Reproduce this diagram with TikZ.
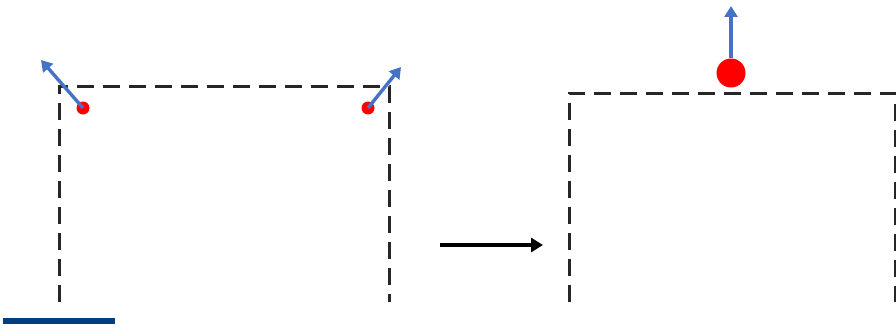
\documentclass[tikz,border=0pt]{standalone}
\usetikzlibrary{arrows.meta}
\definecolor{dotred}{HTML}{FF0000}
\definecolor{arrblue}{HTML}{4472C4}
\definecolor{barblue}{HTML}{003F7F}
\tikzset{
  boxline/.style={draw=black!85, line width=3pt, dash pattern=on 17pt off 9pt},
  dot/.style={circle, fill=dotred, inner sep=0pt},
  vec/.style={draw=arrblue, line width=3.4pt, -{Triangle[length=11pt,width=13pt]}},
  step arrow/.style={draw=black, line width=3.4pt, -{Triangle[length=12pt,width=14pt]}}
}
\begin{document}
\begin{tikzpicture}[x=1pt,y=-1pt]
\useasboundingbox (0,0) rectangle (896,329);
% left box
\coordinate (LBL) at (59,302);
\coordinate (LTL) at (59,86);
\coordinate (LTR) at (389,86);
\coordinate (LBR) at (389,302);
\draw[boxline] (LBL) -- (LTL) -- (LTR) -- (LBR);
% right box
\coordinate (RBL) at (569,302);
\coordinate (RTL) at (569,93);
\coordinate (RTR) at (895,93);
\coordinate (RBR) at (895,302);
\draw[boxline] (RBL) -- (RTL) -- (RTR) -- (RBR);
% dots
\node[dot, minimum size=13pt] (d1) at (83,108) {};
\node[dot, minimum size=13pt] (d2) at (368,108) {};
\node[dot, minimum size=29pt] (d3) at (731,73) {};
% vectors
\coordinate (v1) at (41,60);
\coordinate (v2) at (401,67);
\coordinate (v3) at (731,6);
\draw[vec] (d1.center) -- (v1);
\draw[vec] (d2.center) -- (v2);
\draw[vec] (d3.north) -- (v3);
% step arrow
\coordinate (a1) at (440,245);
\coordinate (a2) at (543,245);
\draw[step arrow] (a1) -- (a2);
% bar
\coordinate (b1) at (3,321);
\coordinate (b2) at (115,321);
\draw[barblue, line width=6.5pt] (b1) -- (b2);
\end{tikzpicture}
\end{document}
